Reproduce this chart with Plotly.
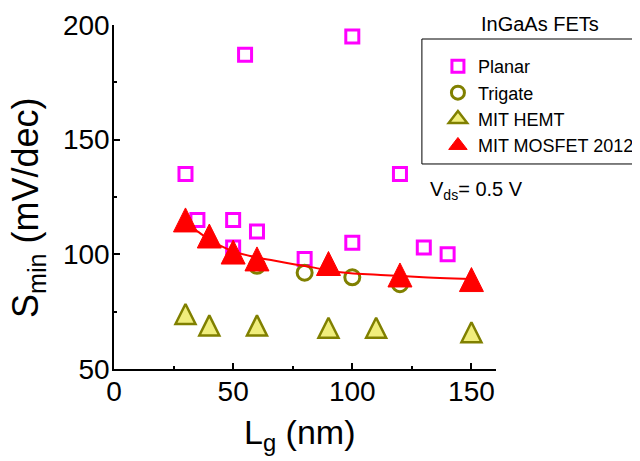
import plotly.graph_objects as go

# Planar InGaAs FETs
planar_x = [30, 35, 50, 50, 55, 60, 80, 100, 100, 120, 130, 140]
planar_y = [135, 115, 115, 103, 187, 110, 98, 105, 195, 135, 103, 100]

# Trigate
trigate_x = [60, 80, 100, 120]
trigate_y = [95, 92, 90, 87]

# MIT HEMT
hemt_x = [30, 40, 60, 90, 110, 150]
hemt_y = [74, 69, 69, 68, 68, 66]

# MIT MOSFET 2012
mosfet_x = [30, 40, 50, 60, 90, 120, 150]
mosfet_y = [115, 108, 101, 98, 96, 91, 89]

# Fit curve
fit_x = [30, 35, 40, 45, 50, 60, 67, 76, 84, 95, 114, 128, 150]
fit_y = [113.5, 110, 106.5, 103.6, 101.3, 98.6, 97.3, 95.6, 94.2, 92.2, 90.9, 90.1, 89.2]

x_ticks = [0, 50, 100, 150]
y_ticks = [50, 100, 150, 200]

FONT = "Liberation Sans, Arial, sans-serif"
MAGENTA = "#ff00ff"
OLIVE = "#808000"
YELLOW = "#f0ee7c"
RED = "#ff0000"

fig = go.Figure()

# data traces (legend handled by legend-only entries below)
fig.add_trace(go.Scatter(
    x=planar_x, y=planar_y, mode="markers", name="Planar", showlegend=False,
    marker=dict(symbol="square-open", size=13, color=MAGENTA,
                line=dict(width=3, color=MAGENTA)),
))
fig.add_trace(go.Scatter(
    x=trigate_x, y=trigate_y, mode="markers", name="Trigate", showlegend=False,
    marker=dict(symbol="circle-open", size=15, color=OLIVE,
                line=dict(width=3, color=OLIVE)),
))
fig.add_trace(go.Scatter(
    x=hemt_x, y=hemt_y, mode="markers", name="MIT HEMT", showlegend=False,
    marker=dict(symbol="arrow-down", angle=180, standoff=10, size=20,
                color=YELLOW, line=dict(width=2.5, color=OLIVE)),
))
fig.add_trace(go.Scatter(
    x=fit_x, y=fit_y, mode="lines", showlegend=False,
    line=dict(color=RED, width=2, shape="spline"),
    hoverinfo="skip",
))
fig.add_trace(go.Scatter(
    x=mosfet_x, y=mosfet_y, mode="markers", name="MIT MOSFET 2012", showlegend=False,
    marker=dict(symbol="arrow-down", angle=180, standoff=12, size=24,
                color=RED, line=dict(width=1, color=RED)),
))

# legend entries
legend_entries = [
    ("Planar", dict(symbol="square-open", size=12, color=MAGENTA, line=dict(width=3, color=MAGENTA))),
    ("Trigate", dict(symbol="circle-open", size=13, color=OLIVE, line=dict(width=3, color=OLIVE))),
    ("MIT HEMT", dict(symbol="triangle-up", size=16, color=YELLOW, line=dict(width=2.5, color=OLIVE))),
    ("MIT MOSFET 2012", dict(symbol="triangle-up", size=16, color=RED, line=dict(width=1, color=RED))),
]
for name, mk in legend_entries:
    fig.add_trace(go.Scatter(x=[None], y=[None], mode="markers", name=name, marker=mk))

axis_common = dict(
    showline=True, linecolor="black", linewidth=1.5,
    ticks="inside", ticklen=6, tickwidth=1.5, tickcolor="black",
    showgrid=False, zeroline=False,
    tickfont=dict(family=FONT, size=28, color="black"),
    mirror=False, ticklabelstandoff=-3,
)

fig.update_xaxes(
    range=[0, 160.3], tickvals=x_ticks,
    minor=dict(ticks="inside", ticklen=3, tickwidth=1.5, tickcolor="black", dtick=25, tick0=0, showgrid=False),
    **axis_common,
)
fig.update_yaxes(
    range=[50, 200], tickvals=y_ticks,
    minor=dict(ticks="inside", ticklen=3, tickwidth=1.5, tickcolor="black", dtick=25, tick0=50, showgrid=False),
    **axis_common,
)

# page body has an 8px margin: figure is 632x453 placed at (8, 8)
fig.update_layout(
    width=632, height=453,
    margin=dict(l=106, r=144, t=17, b=92, autoexpand=False),
    paper_bgcolor="white", plot_bgcolor="white",
    font=dict(family=FONT, color="black"),
    showlegend=True,
    legend=dict(
        x=0.848, y=0.933, xanchor="left", yanchor="top",
        font=dict(family=FONT, size=18, color="black"),
        bgcolor="rgba(0,0,0,0)", borderwidth=0,
        tracegroupgap=0,
    ),
    shapes=[dict(
        type="rect", xref="paper", yref="paper",
        x0=0.806, x1=1.45, y0=0.596, y1=0.9593,
        line=dict(color="black", width=1), fillcolor="rgba(0,0,0,0)",
    )],
    annotations=[
        dict(text="InGaAs FETs", xref="paper", yref="paper", x=1.115, y=1.003,
             xanchor="center", yanchor="middle", showarrow=False,
             font=dict(family=FONT, size=20, color="black")),
        dict(text="V<sub>ds</sub>= 0.5 V", xref="paper", yref="paper", x=0.822, y=0.52,
             xanchor="left", yanchor="middle", showarrow=False,
             font=dict(family=FONT, size=20, color="black")),
        dict(text="S<sub>min</sub> (mV/dec)", xref="paper", yref="paper", x=-0.225, y=0.468,
             xanchor="center", yanchor="middle", textangle=-90, showarrow=False,
             font=dict(family=FONT, size=36, color="black")),
        dict(text="L<sub>g</sub> (nm)", xref="paper", yref="paper", x=0.487, y=-0.19,
             xanchor="center", yanchor="middle", showarrow=False,
             font=dict(family=FONT, size=34, color="black")),
    ],
)

fig.write_html("out.html")
